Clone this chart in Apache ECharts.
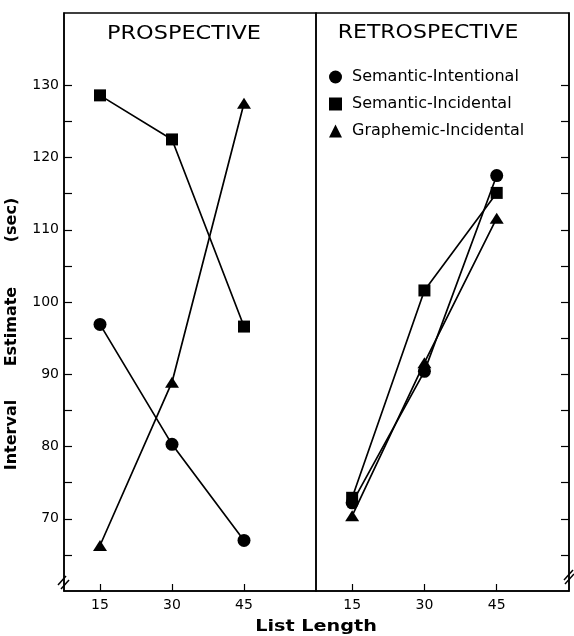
<!DOCTYPE html>
<html>
<head>
<meta charset="utf-8">
<script src="https://cdn.jsdelivr.net/npm/echarts@6/dist/echarts.min.js"></script>
<style>html,body{margin:0;padding:0;background:#fff}#c{width:574px;height:636px}</style>
</head>
<body>
<div id="c"></div>
<script>
// ---- data ----
const listLengths = [15, 30, 45];
const seriesNames = ['Semantic-Intentional', 'Semantic-Incidental', 'Graphemic-Incidental'];
const seriesSymbols = ['circle', 'rect', 'triangle'];
const panelTitles = ['PROSPECTIVE', 'RETROSPECTIVE'];
// Prospective
const prospSemInt = [96.9, 80.3, 67.0];
const prospSemInc = [128.6, 122.5, 96.6];
const prospGraInc = [66.3, 88.9, 127.5];
// Retrospective
const retroSemInt = [72.2, 90.4, 117.5];
const retroSemInc = [72.9, 101.6, 115.1];
const retroGraInc = [70.4, 91.6, 111.6];
// ticks
const yTickValues = [65, 70, 75, 80, 85, 90, 95, 100, 105, 110, 115, 120, 125, 130];
const yLabelValues = [70, 80, 90, 100, 110, 120, 130];
const xTickValues = [15, 30, 45];
const yTitle = 'Interval      Estimate        (sec)';
const xTitle = 'List Length';

const chart = echarts.init(document.getElementById('c'), null, {renderer: 'canvas'});
const FONT = 'DejaVu Sans';
const symbolSizes = {circle: 13, rect: 12, triangle: [14, 11]};

function pts(vals) { return listLengths.map((x, i) => [x, vals[i]]); }
function mk(name, sym, vals, idx) {
  return {
    type: 'line', name: name, xAxisIndex: idx, yAxisIndex: idx,
    data: pts(vals), symbol: sym, symbolSize: symbolSizes[sym],
    showAllSymbol: true,
    lineStyle: {color: '#000', width: 1.7},
    itemStyle: {color: '#000'},
    emphasis: {disabled: true}, animation: false, z: 3
  };
}
const panels = [[prospSemInt, prospSemInc, prospGraInc], [retroSemInt, retroSemInc, retroGraInc]];
const series = [];
panels.forEach((p, idx) => p.forEach((vals, k) => series.push(mk(seriesNames[k], seriesSymbols[k], vals, idx))));

function xAxis(idx) {
  return {
    type: 'value', gridIndex: idx, min: 7.5, max: 60,
    axisLine: {show: true, lineStyle: {color: '#000', width: 1.5}},
    axisTick: {show: true, inside: true, length: 7, customValues: xTickValues, lineStyle: {color: '#000', width: 1.2}},
    axisLabel: {show: true, customValues: xTickValues, color: '#000', fontSize: 14, fontFamily: FONT, margin: 7},
    splitLine: {show: false}
  };
}
function yAxis(idx) {
  const a = {
    type: 'value', gridIndex: idx, min: 60, max: 140, position: idx === 0 ? 'left' : 'right',
    axisLine: {show: true, lineStyle: {color: '#000', width: 1.5}},
    axisTick: {show: true, inside: true, length: 8, customValues: yTickValues, lineStyle: {color: '#000', width: 1.2}},
    axisLabel: {show: idx === 0, customValues: yLabelValues, color: '#000', fontSize: 14, fontFamily: FONT, margin: 5},
    splitLine: {show: false}
  };
  if (idx === 0) {
    a.name = yTitle;
    a.nameLocation = 'middle';
    a.nameRotate = 90;
    a.nameGap = 44;
    a.nameTextStyle = {color: '#000', fontSize: 16, fontWeight: 'bold', fontFamily: FONT, padding: [0, 64, 0, 0]};
  }
  return a;
}

const option = {
  animation: false,
  backgroundColor: '#fff',
  textStyle: {fontFamily: FONT},
  grid: [
    {left: 64, top: 13, width: 252, height: 578, show: true, borderColor: '#000', borderWidth: 1.5},
    {left: 316, top: 13, width: 253, height: 578, show: true, borderColor: '#000', borderWidth: 1.5}
  ],
  xAxis: [xAxis(0), xAxis(1)],
  yAxis: [yAxis(0), yAxis(1)],
  legend: {
    orient: 'vertical', left: 324, top: 64,
    itemWidth: 13, itemHeight: 13, itemGap: 11,
    selectedMode: false,
    data: seriesNames.map((n, k) => ({name: n, icon: seriesSymbols[k]})),
    textStyle: {color: '#000', fontSize: 16, fontFamily: FONT, padding: [0, 0, 0, 5]}
  },
  graphic: [
    {type: 'text', x: 184, y: 34, scaleX: 1.12, style: {text: panelTitles[0], fill: '#000', font: '20px "DejaVu Sans"', textAlign: 'center', textVerticalAlign: 'middle'}},
    {type: 'text', x: 428, y: 33, scaleX: 1.1, style: {text: panelTitles[1], fill: '#000', font: '20px "DejaVu Sans"', textAlign: 'center', textVerticalAlign: 'middle'}},
    {type: 'text', x: 316, y: 627, scaleX: 1.2, style: {text: xTitle, fill: '#000', font: 'bold 16px "DejaVu Sans"', textAlign: 'center', textVerticalAlign: 'middle'}},
    {type: 'line', shape: {x1: 58, y1: 585, x2: 66, y2: 576}, style: {stroke: '#000', lineWidth: 1.5}},
    {type: 'line', shape: {x1: 61, y1: 589, x2: 69, y2: 580}, style: {stroke: '#000', lineWidth: 1.5}},
    {type: 'line', shape: {x1: 564, y1: 580, x2: 573, y2: 570}, style: {stroke: '#000', lineWidth: 1.5}},
    {type: 'line', shape: {x1: 565, y1: 584, x2: 574, y2: 574}, style: {stroke: '#000', lineWidth: 1.5}}
  ],
  series: series
};
chart.setOption(option);
</script>
</body>
</html>
